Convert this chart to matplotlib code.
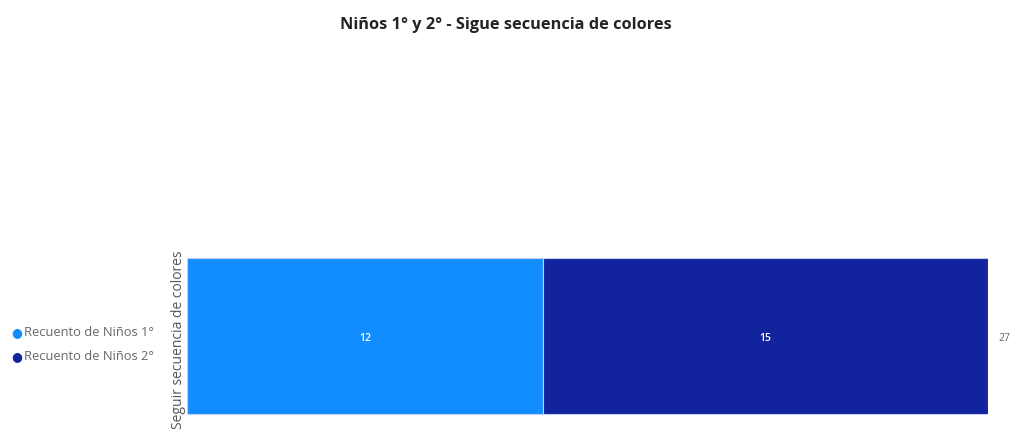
import matplotlib
matplotlib.use("Agg")
import matplotlib.pyplot as plt

category = ["Seguir secuencia de colores"]
series_names = ["Recuento de Niños 1°", "Recuento de Niños 2°"]
series_values = [12, 15]
colors = ["#118DFF", "#12239E"]

plt.rcParams['font.family'] = ['Open Sans', 'DejaVu Sans']

fig = plt.figure(figsize=(10.11, 4.32), dpi=100)
W, H = 1011, 432
# axes placed in pixel terms: x 187..988, y 252..428
ax = fig.add_axes([187 / W, (H - 428) / H, (988 - 187) / W, (428 - 252) / H])

left = 0
for name, val, col in zip(series_names, series_values, colors):
    ax.barh(0.023, val, left=left, height=0.886, color=col, edgecolor="#c8d0f0",
            linewidth=0.8, label=name)
    ax.text(left + val / 2, 0.011, str(val), ha="center", va="center",
            color="white", fontsize=7.5, fontweight="semibold")
    left += val

total = sum(series_values)
ax.text(total + 0.35, 0.011, str(total), ha="left", va="center",
        color="#666666", fontsize=7.5)

ax.set_xlim(0, total)
ax.set_ylim(-0.5, 0.5)
ax.set_xticks([])
ax.set_yticks([])
for s in ax.spines.values():
    s.set_visible(False)
ax.set_ylabel(category[0], color="#555555", fontsize=10, labelpad=1)

# legend on the left
leg_y = [333, 357]
for name, col, y in zip(series_names, colors, leg_y):
    fig.text(11 / W, (H - y) / H, "\u25CF", color=col, fontsize=9,
             ha="left", va="center", family="DejaVu Sans")
    fig.text(24 / W, (H - y) / H, name, color="#666666", fontsize=9.3,
             ha="left", va="center")

fig.text(0.5, (H - 25) / H, "Niños 1° y 2° - Sigue secuencia de colores",
         ha="center", va="center", fontsize=11.8, fontweight="bold",
         color="#252423")

fig.savefig("out.png", dpi=100)
